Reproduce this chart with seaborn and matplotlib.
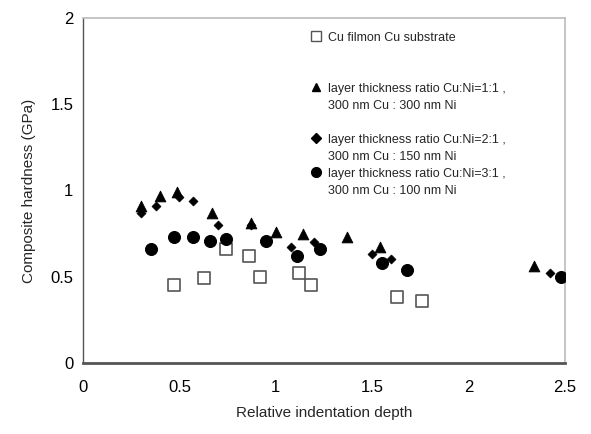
import matplotlib
matplotlib.use('Agg')
import matplotlib.pyplot as plt
from matplotlib.lines import Line2D
import seaborn as sns

# Cu film on Cu substrate (open squares)
cu_x = [0.47, 0.63, 0.74, 0.86, 0.92, 1.12, 1.18, 1.63, 1.76]
cu_y = [0.45, 0.49, 0.66, 0.62, 0.50, 0.52, 0.45, 0.38, 0.36]

# Cu:Ni = 1:1 (triangles)
r11_x = [0.30, 0.40, 0.49, 0.67, 0.87, 1.00, 1.14, 1.37, 1.54, 2.34]
r11_y = [0.91, 0.97, 0.99, 0.87, 0.81, 0.76, 0.75, 0.73, 0.67, 0.56]

# Cu:Ni = 2:1 (diamonds)
r21_x = [0.30, 0.38, 0.50, 0.57, 0.70, 0.87, 1.08, 1.20, 1.50, 1.60, 2.42]
r21_y = [0.87, 0.91, 0.96, 0.94, 0.80, 0.80, 0.67, 0.70, 0.63, 0.60, 0.52]

# Cu:Ni = 3:1 (circles)
r31_x = [0.35, 0.47, 0.57, 0.66, 0.74, 0.95, 1.11, 1.23, 1.55, 1.68, 2.48]
r31_y = [0.66, 0.73, 0.73, 0.71, 0.72, 0.71, 0.62, 0.66, 0.58, 0.54, 0.50]

labels = ['Cu filmon Cu substrate',
          'layer thickness ratio Cu:Ni=1:1 ,', '300 nm Cu : 300 nm Ni',
          'layer thickness ratio Cu:Ni=2:1 ,', '300 nm Cu : 150 nm Ni',
          'layer thickness ratio Cu:Ni=3:1 ,', '300 nm Cu : 100 nm Ni']

sns.set_style('white')
plt.rcParams['font.family'] = ['Liberation Sans', 'DejaVu Sans']

fig = plt.figure(figsize=(5.91, 4.34), dpi=100)
ax = fig.add_axes([0.1405, 0.1636, 0.8155, 0.795])

sns.scatterplot(x=cu_x, y=cu_y, marker='s', s=70, facecolor='white',
                edgecolor='#555555', linewidth=1.2, ax=ax, legend=False, zorder=2)
sns.scatterplot(x=r11_x, y=r11_y, marker='^', s=60, color='black',
                edgecolor='black', ax=ax, legend=False, zorder=3)
sns.scatterplot(x=r21_x, y=r21_y, marker='D', s=22, color='black',
                edgecolor='black', ax=ax, legend=False, zorder=3)
sns.scatterplot(x=r31_x, y=r31_y, marker='o', s=75, color='black',
                edgecolor='black', ax=ax, legend=False, zorder=3)

ax.set_xlim(0, 2.5)
ax.set_ylim(0, 2)
ax.set_xticks([0, 0.5, 1, 1.5, 2, 2.5])
ax.set_xticklabels(['0', '0.5', '1', '1.5', '2', '2.5'])
ax.set_yticks([0, 0.5, 1, 1.5, 2])
ax.set_yticklabels(['0', '0.5', '1', '1.5', '2'])
ax.tick_params(direction='out', length=4, width=1, labelsize=12,
               colors='#444444', labelcolor='black')
ax.tick_params(axis='y', pad=3)
ax.tick_params(axis='x', pad=8)
ax.set_xlabel('Relative indentation depth', fontsize=11, labelpad=8)
ax.set_ylabel('Composite hardness (GPa)', fontsize=11, labelpad=10)

for side in ['top', 'right']:
    ax.spines[side].set_color('#bbbbbb')
    ax.spines[side].set_linewidth(1.2)
ax.spines['left'].set_color('#555555')
ax.spines['left'].set_linewidth(1)
ax.spines['bottom'].set_color('#555555')
ax.spines['bottom'].set_linewidth(2)

blank = Line2D([], [], linestyle='none', marker=None)
sq = Line2D([], [], linestyle='none', marker='s', markersize=7,
            markerfacecolor='white', markeredgecolor='#555555')
tri = Line2D([], [], linestyle='none', marker='^', markersize=6, color='black')
dia = Line2D([], [], linestyle='none', marker='D', markersize=5, color='black')
circ = Line2D([], [], linestyle='none', marker='o', markersize=7, color='black')

handles = [sq, blank, blank, tri, blank, blank, dia, blank, circ, blank]
leg_labels = [labels[0], ' ', ' ', labels[1], labels[2], ' ',
              labels[3], labels[4], labels[5], labels[6]]
ax.legend(handles, leg_labels, loc='upper left', bbox_to_anchor=(0.465, 0.975),
          frameon=False, fontsize=9, handlelength=0.6, handletextpad=0.7,
          labelspacing=0.4, borderaxespad=0)

fig.savefig('out.png', dpi=100)
